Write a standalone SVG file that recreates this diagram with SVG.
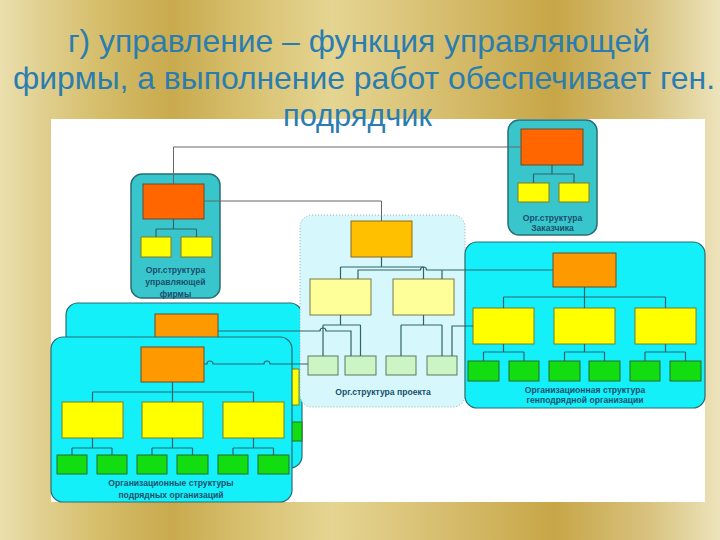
<svg xmlns="http://www.w3.org/2000/svg" width="720" height="540" viewBox="0 0 720 540">
<defs>
<linearGradient id="gold" x1="0" y1="0" x2="720" y2="0" gradientUnits="userSpaceOnUse">
<stop offset="0" stop-color="#eadfae"/>
<stop offset="0.06" stop-color="#e0cf8e"/>
<stop offset="0.14" stop-color="#d5bd6a"/>
<stop offset="0.24" stop-color="#c9aa4e"/>
<stop offset="0.33" stop-color="#d6be6c"/>
<stop offset="0.46" stop-color="#e5d592"/>
<stop offset="0.6" stop-color="#d8c072"/>
<stop offset="0.77" stop-color="#c7a647"/>
<stop offset="0.9" stop-color="#d8c27e"/>
<stop offset="1" stop-color="#ede3bb"/>
</linearGradient>
</defs>
<style>
.title{font-family:"Liberation Sans",Arial,sans-serif;font-size:31.5px;fill:#2a7db0;text-anchor:middle}
.lbl{font-family:"Liberation Sans",Arial,sans-serif;font-weight:bold;font-size:8.6px;fill:#1c4f6c;text-anchor:middle}
.clA{fill:#38c6cc;stroke:#2a6d74;stroke-width:1.5}
.clB{fill:#14f0fa;stroke:#2a6d74;stroke-width:1.2}
.proj{fill:#d6f8fc;stroke:#9aaab0;stroke-width:1;stroke-dasharray:1 2}
.or1{fill:#ff6600;stroke:#6b4a2a}
.or2{fill:#ff9900;stroke:#6b4a2a}
.or3{fill:#ffc000;stroke:#8a6a1a}
.ye{fill:#ffff00;stroke:#7a7a2a}
.ly{fill:#ffff99;stroke:#7a7a4a}
.gr{fill:#11dd11;stroke:#2a6a2a}
.lg{fill:#ccf5c6;stroke:#5a7a5a}
.ln{fill:none;stroke:#2e6468;stroke-width:1.2}
.gl{fill:none;stroke:#666;stroke-width:1}
</style>
<rect x="0" y="0" width="720" height="540" fill="url(#gold)"/>
<rect x="51" y="119" width="654" height="383" fill="#ffffff"/>

<g id="mgmt">
<rect class="clA" x="131" y="174" width="89" height="124" rx="11"/>
<rect id="mgmt-head" class="or1" x="143" y="184" width="61" height="35"/>
<rect id="mgmt-a" class="ye" x="141" y="237" width="30" height="20"/>
<rect id="mgmt-b" class="ye" x="181" y="237" width="31" height="20"/>
<path class="ln" d="M173.5,219 V229 M156,229 H196.5 M156,229 V237 M196.5,229 V237"/>
<text class="lbl" x="175.5" y="273">Орг.структура</text>
<text class="lbl" x="175.5" y="285">управляющей</text>
<text class="lbl" x="175.5" y="297">фирмы</text>
</g>

<g id="client">
<rect class="clA" x="508" y="120" width="89" height="115" rx="11"/>
<rect id="client-head" class="or1" x="521" y="129" width="62" height="36"/>
<rect id="client-a" class="ye" x="518" y="183" width="31" height="19"/>
<rect id="client-b" class="ye" x="559" y="183" width="30" height="19"/>
<path class="ln" d="M552,165 V174 M533.5,174 H574 M533.5,174 V183 M574,174 V183"/>
<text class="lbl" x="552.5" y="221">Орг.структура</text>
<text class="lbl" x="552.5" y="231">Заказчика</text>
</g>

<g id="sub-back">
<rect class="clB" x="66" y="303" width="236" height="165" rx="12"/>
<rect id="sub-back-head" class="or2" x="155" y="314" width="63" height="35"/>
<rect id="sub-back-y3" class="ye" x="238" y="369" width="61" height="36"/>
<rect id="sub-back-g6" class="gr" x="271" y="422" width="31" height="19"/>
</g>

<g id="sub-front">
<rect class="clB" x="51" y="337" width="241" height="165" rx="12"/>
<rect id="sub-head" class="or2" x="141" y="347" width="63" height="35"/>
<rect id="sub-y1" class="ye" x="62" y="402" width="61" height="36"/>
<rect id="sub-y2" class="ye" x="142" y="402" width="61" height="36"/>
<rect id="sub-y3" class="ye" x="223" y="402" width="61" height="36"/>
<rect id="sub-g1" class="gr" x="57" y="455" width="30" height="19"/>
<rect id="sub-g2" class="gr" x="97" y="455" width="30" height="19"/>
<rect id="sub-g3" class="gr" x="137" y="455" width="30" height="19"/>
<rect id="sub-g4" class="gr" x="177" y="455" width="31" height="19"/>
<rect id="sub-g5" class="gr" x="218" y="455" width="30" height="19"/>
<rect id="sub-g6" class="gr" x="258" y="455" width="31" height="19"/>
<path class="ln" d="M172.5,382 V392 M92.5,392 H253.5 M92.5,392 V402 M172.5,392 V402 M253.5,392 V402 M92.5,438 V448 M72,448 H112 M72,448 V455 M112,448 V455 M172.5,438 V448 M152,448 H192.5 M152,448 V455 M192.5,448 V455 M253.5,438 V448 M233,448 H273.5 M233,448 V455 M273.5,448 V455"/>
<text class="lbl" x="171" y="486">Организационные структуры</text>
<text class="lbl" x="171" y="498">подрядных организаций</text>
</g>

<g id="project">
<rect class="proj" x="300" y="215" width="165" height="192" rx="12"/>
<rect id="proj-head" class="or3" x="351" y="221" width="61" height="36"/>
<rect id="proj-a" class="ly" x="310" y="279" width="61" height="36"/>
<rect id="proj-b" class="ly" x="393" y="279" width="61" height="36"/>
<rect id="proj-a1" class="lg" x="308" y="356" width="30" height="19"/>
<rect id="proj-a2" class="lg" x="345" y="356" width="31" height="19"/>
<rect id="proj-b1" class="lg" x="386" y="356" width="30" height="19"/>
<rect id="proj-b2" class="lg" x="427" y="356" width="30" height="19"/>
<text class="lbl" x="383" y="395">Орг.структура проекта</text>
</g>

<g id="gencontractor">
<rect class="clB" x="465" y="242" width="240" height="166" rx="12"/>
<rect id="gen-head" class="or2" x="553" y="253" width="63" height="34"/>
<rect id="gen-y1" class="ye" x="473" y="308" width="61" height="36"/>
<rect id="gen-y2" class="ye" x="554" y="308" width="61" height="36"/>
<rect id="gen-y3" class="ye" x="635" y="308" width="61" height="36"/>
<rect id="gen-g1" class="gr" x="468" y="361" width="31" height="20"/>
<rect id="gen-g2" class="gr" x="509" y="361" width="30" height="20"/>
<rect id="gen-g3" class="gr" x="549" y="361" width="31" height="20"/>
<rect id="gen-g4" class="gr" x="589" y="361" width="31" height="20"/>
<rect id="gen-g5" class="gr" x="630" y="361" width="30" height="20"/>
<rect id="gen-g6" class="gr" x="670" y="361" width="31" height="20"/>
<path class="ln" d="M584.5,287 V297 M503.5,297 H665.5 M503.5,297 V308 M584.5,297 V308 M665.5,297 V308 M503.5,344 V352 M483.5,352 H524 M483.5,352 V361 M524,352 V361 M584.5,344 V352 M564.5,352 H604.5 M564.5,352 V361 M604.5,352 V361 M665.5,344 V352 M645,352 H685.5 M645,352 V361 M685.5,352 V361"/>
<text class="lbl" x="585" y="393">Организационная структура</text>
<text class="lbl" x="585" y="403">генподрядной организации</text>
</g>

<g id="connectors">
<path class="gl" d="M173.5,184 V147 H521"/>
<path class="gl" d="M204,201 H381.5 V221"/>
<path class="ln" d="M381.5,257 V267 M340.5,267 H423.5 M340.5,267 V279 M423.5,267 V279"/>
<path class="ln" d="M358,279 V270 H420.5 a3,3 0 0 1 6,0 H553 M442,270 V279"/>
<path class="ln" d="M340.5,315 V325 M323,325 H360.5 M323,325 V356 M360.5,325 V356"/>
<path class="ln" d="M218,331 H320 a3,3 0 0 1 6,0 H351 V356"/>
<path class="ln" d="M423.5,315 V325 M401,325 H442 M401,325 V356 M442,325 V356"/>
<path class="ln" d="M473,326 H452 V356"/>
<path class="ln" d="M204,364 H207 a3,3 0 0 1 6,0 H264 a3,3 0 0 1 6,0 H308"/>
</g>

<g id="title">
<text class="title" x="359" y="52" textLength="582" lengthAdjust="spacingAndGlyphs">г) управление – функция управляющей</text>
<text class="title" x="364" y="89" textLength="702" lengthAdjust="spacingAndGlyphs">фирмы, а выполнение работ обеспечивает ген.</text>
<text class="title" x="357.5" y="126" textLength="149" lengthAdjust="spacingAndGlyphs">подрядчик</text>
</g>
</svg>
